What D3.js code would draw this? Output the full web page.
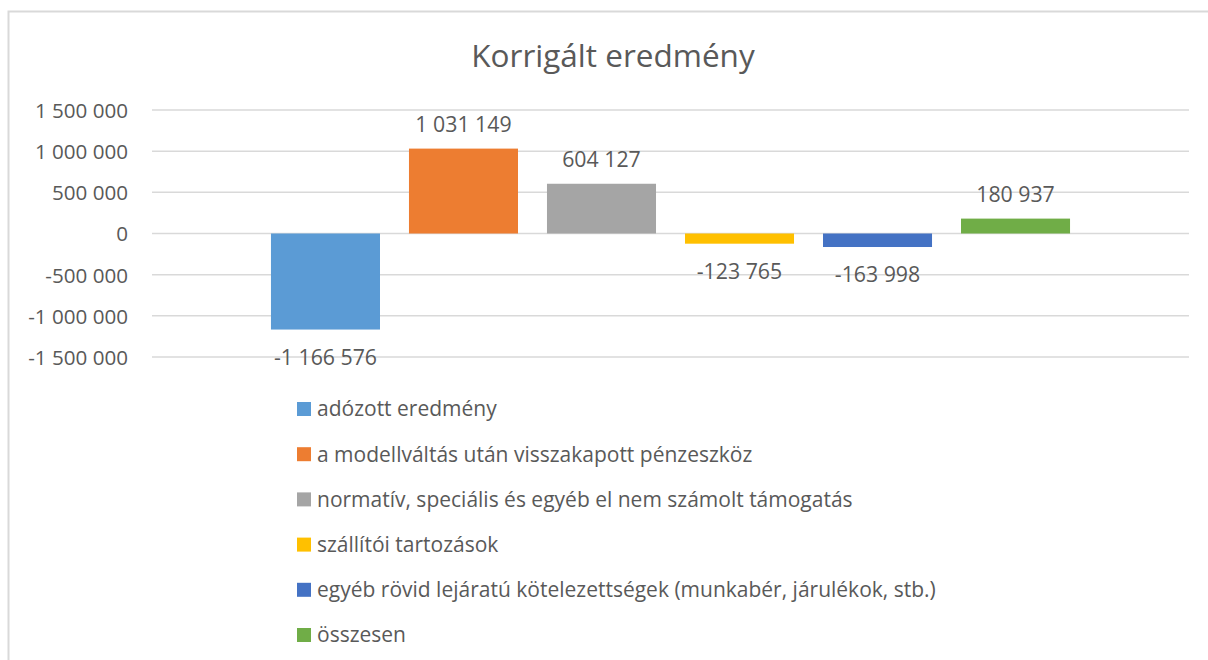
<!DOCTYPE html>
<html>
<head>
<meta charset="utf-8">
<script src="https://cdn.jsdelivr.net/npm/d3@7"></script>
<style>
    body { margin: 0; background: #fff; }
    text { font-family: "Open Sans", sans-serif; fill: #595959; }
</style>
</head>
<body>
<svg id="chart"></svg>
<script>
// chart data
const seriesNames = [
    "adózott eredmény",
    "a modellváltás után visszakapott pénzeszköz",
    "normatív, speciális és egyéb el nem számolt támogatás",
    "szállítói tartozások",
    "egyéb rövid lejáratú kötelezettségek (munkabér, járulékok, stb.)",
    "összesen"
];
const seriesValues = [-1166576, 1031149, 604127, -123765, -163998, 180937];
const seriesColors = ["#5B9BD5", "#ED7D31", "#A5A5A5", "#FFC000", "#4472C4", "#70AD47"];
const yTicks = [-1500000, -1000000, -500000, 0, 500000, 1000000, 1500000];
const chartTitle = "Korrigált eredmény";

// set up for svg size and position
const svgWidth = 1208;
const svgHeight = 660;
const plot = { left: 152, right: 1189, top: 110, bottom: 357 };

const svg = d3.select("#chart")
    .attr("width", svgWidth)
    .attr("height", svgHeight);

// chart frame (top and left border only visible in the crop)
svg.append("path")
    .attr("d", `M8.5,${svgHeight} V11.5 H${svgWidth}`)
    .attr("fill", "none")
    .attr("stroke", "#d9d9d9")
    .attr("stroke-width", 2);

// title
svg.append("text")
    .attr("x", 613)
    .attr("y", 67)
    .attr("text-anchor", "middle")
    .style("font-size", "31.5px")
    .text(chartTitle);

// number format with space as thousands separator and plain hyphen
const fmt = v => d3.format(",")(v).replace(/,/g, " ").replace("\u2212", "-");

// scales
const xScale = d3.scaleBand()
    .domain(seriesNames)
    .range([plot.left, plot.right])
    .paddingInner(0.21)
    .paddingOuter(0.862);

const yScale = d3.scaleLinear()
    .domain([-1500000, 1500000])
    .range([plot.bottom, plot.top]);

// gridlines
svg.append("g")
    .selectAll("line")
    .data(yTicks)
    .join("line")
    .attr("x1", plot.left)
    .attr("x2", plot.right)
    .attr("y1", d => yScale(d))
    .attr("y2", d => yScale(d))
    .attr("stroke", "#d9d9d9")
    .attr("stroke-width", 1.5);

// y axis labels
const yAxis = d3.axisLeft(yScale)
    .tickValues(yTicks)
    .tickFormat(fmt)
    .tickSize(0)
    .tickPadding(24);

const yAxisG = svg.append("g")
    .attr("transform", `translate(${plot.left}, 0)`)
    .call(yAxis);
yAxisG.select(".domain").remove();
yAxisG.selectAll("text")
    .attr("font-family", null)
    .attr("dy", "0.36em")
    .style("font-size", "20.6px");

// bars
svg.append("g")
    .selectAll("rect")
    .data(seriesValues)
    .join("rect")
    .attr("x", (d, i) => xScale(seriesNames[i]))
    .attr("y", d => yScale(Math.max(0, d)))
    .attr("width", xScale.bandwidth())
    .attr("height", d => Math.abs(yScale(d) - yScale(0)))
    .attr("fill", (d, i) => seriesColors[i]);

// data labels
svg.append("g")
    .selectAll("text")
    .data(seriesValues)
    .join("text")
    .attr("x", (d, i) => xScale(seriesNames[i]) + xScale.bandwidth() / 2)
    .attr("y", d => d >= 0 ? yScale(d) - 17 : yScale(d) + 35)
    .attr("text-anchor", "middle")
    .style("font-size", "21.3px")
    .text(d => fmt(d));

// legend
const legend = svg.append("g")
    .selectAll("g")
    .data(seriesNames)
    .join("g")
    .attr("transform", (d, i) => `translate(297, ${409 + i * 45.2})`);

legend.append("rect")
    .attr("x", 0)
    .attr("y", -7)
    .attr("width", 14)
    .attr("height", 14)
    .attr("fill", (d, i) => seriesColors[i]);

legend.append("text")
    .attr("x", 20)
    .attr("y", 0)
    .attr("dy", "0.35em")
    .style("font-size", "21px")
    .text(d => d);
</script>
</body>
</html>
